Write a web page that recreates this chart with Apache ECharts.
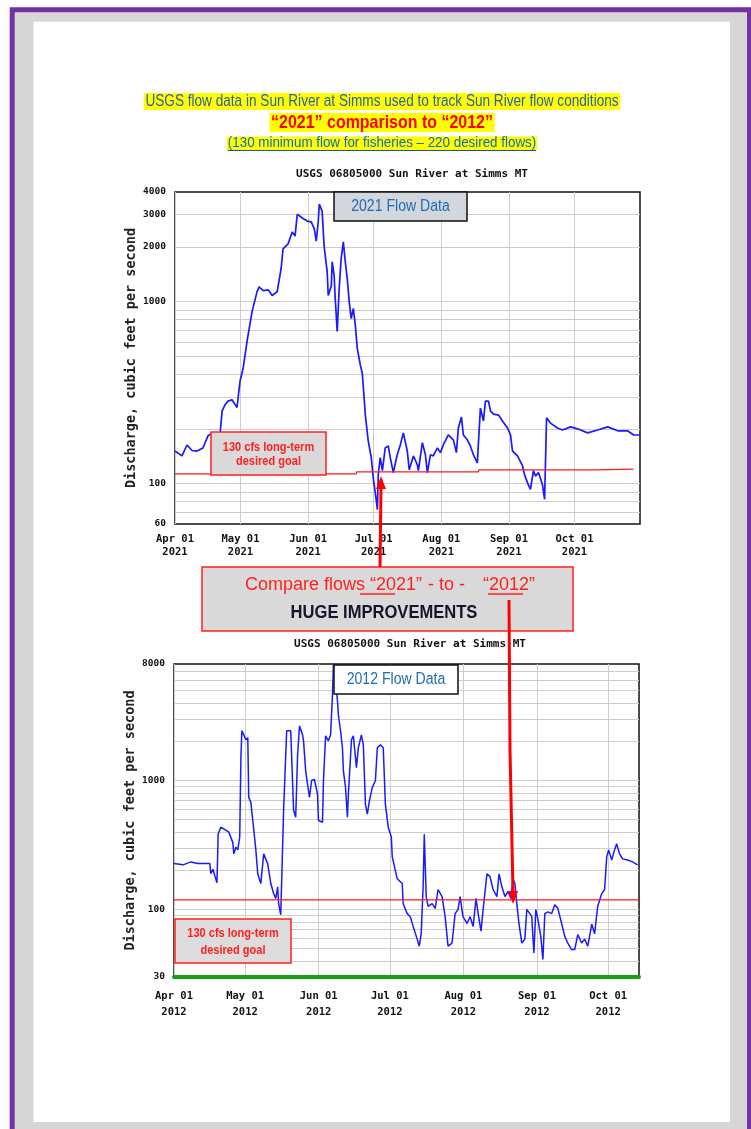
<!DOCTYPE html>
<html><head><meta charset="utf-8">
<script src="https://cdn.jsdelivr.net/npm/echarts@6/dist/echarts.min.js"></script>
<style>html,body{margin:0;padding:0;background:#fff}#c{width:751px;height:1129px}</style>
</head><body><div id="c"></div>
<script>
// ---------- DATA ----------
// day offsets from Apr 01 and discharge (cfs)
const days2021 = [0,3.2,5.5,7.8,10.1,12.8,15.1,17.4,20.6,21.6,22.9,24.3,26.1,28.4,29.8,31.2,33.0,35.3,37.6,38.5,40.4,42.7,44.5,46.8,47.2,48.6,49.5,51.8,53.7,55.0,56.0,58.3,60.6,62.4,63.8,64.7,65.6,66.1,67.0,67.4,68.3,69.7,70.2,71.6,72.0,72.9,73.4,74.3,75.2,76.1,77.1,78.0,78.9,79.8,80.7,81.7,82.6,83.5,84.9,85.8,87.2,88.5,89.9,90.8,92.2,92.7,93.1,94.0,95.0,96.3,97.7,98.6,100.0,101.8,103.2,104.6,106.4,107.3,109.2,111.0,111.5,113.3,114.7,115.6,117.0,118.3,120.2,121.6,122.9,125.2,127.5,128.9,129.8,131.2,132.1,133.9,135.3,136.7,138.5,139.0,139.9,141.3,142.2,143.6,144.5,145.9,148.2,150.0,152.3,153.7,154.6,156.9,159.2,160.1,161.5,162.8,164.2,165.1,166.5,168.3,169.3,170.2,172.0,175.2,177.5,181.2,184.4,189.0,193.6,198.2,202.8,207.3,210.1,213.3];
const flow2021 = [151,142,163,152,151,157,183,190,186,251,271,284,289,262,366,430,604,881,1134,1205,1148,1160,1080,1134,1120,1515,1950,2075,2410,2290,3020,2880,2770,2740,2510,2150,2740,3430,3510,3140,2020,1460,1080,1220,1655,1387,1038,686,1178,1718,2127,1655,1336,1000,807,916,740,553,447,404,238,172,139,108,81,72,112,139,118,157,161,139,115,144,163,190,151,119,142,127,118,168,144,115,144,142,157,148,163,185,174,148,202,232,185,174,161,144,130,168,260,221,284,284,251,241,238,221,202,185,151,142,125,112,101,93,118,110,115,99,82,230,215,202,197,205,200,190,197,205,195,195,185,185];

const days2012 = [0,3.8,7.1,10.1,15.1,15.5,16.4,18.1,18.5,18.6,19.7,21.8,23.1,24.8,25.2,26.1,26.9,27.7,28.2,28.6,29.4,30.3,31.1,31.5,32.4,33.2,33.6,34.5,35.3,36.6,37.8,39.5,40.8,42.0,42.9,43.7,44.1,45.0,45.8,46.2,47.5,49.2,50.4,51.3,52.1,52.9,54.2,54.6,55.5,56.3,57.1,58.0,59.2,60.5,60.9,62.6,63.0,63.9,65.1,66.0,66.8,67.2,68.1,68.9,69.3,70.2,71.0,71.4,72.3,73.1,73.5,74.8,75.6,76.9,77.7,79.0,79.8,80.7,81.5,82.4,83.6,84.9,85.7,87.0,88.2,89.1,90.3,91.6,92.0,94.1,96.2,96.6,98.3,99.6,100.8,102.5,103.4,104.2,105.0,105.5,106.3,107.1,108.8,110.1,111.3,113.0,114.3,115.5,117.2,118.5,119.7,120.6,121.8,123.5,124.8,126.1,127.3,128.2,129.4,130.3,131.9,133.2,134.5,136.1,137.0,138.2,139.5,140.8,142.0,142.9,143.7,144.5,145.4,146.6,147.9,148.7,150.0,150.8,151.7,152.5,153.4,154.6,155.5,156.3,157.6,159.2,160.5,161.8,163.4,164.7,166.0,167.6,168.9,170.2,171.8,173.1,174.4,176.1,177.3,178.6,180.3,181.5,182.4,183.2,184.5,185.7,186.6,187.8,189.1,191.2,193.3,195.4];
const flow2012 = [227,222,234,227,227,190,205,161,305,384,435,412,398,330,270,305,290,365,1500,2430,2260,2070,2150,740,677,490,420,290,189,159,270,226,159,133,122,150,111,91,93,588,2430,2430,588,519,1585,2650,2260,2030,1194,930,740,1000,1018,780,490,475,1000,2220,2030,2260,4600,8000,6200,4130,3220,2430,1795,1194,884,519,780,2070,2220,1260,1795,2260,1890,654,548,701,884,1000,1795,1890,1795,654,435,365,256,173,159,111,93,88,74,59,52,65,150,384,126,106,111,102,143,126,88,52,55,93,100,126,88,78,88,74,122,93,68,100,189,180,143,126,189,150,126,138,122,173,159,111,78,55,59,100,93,88,46,100,84,62,41,93,96,93,109,102,78,62,55,49,49,64,55,59,52,77,65,106,133,143,256,290,242,290,323,270,247,242,234,222];

// hand-drawn "long-term goal" red lines
const goal2021Days = [0,83,83.2,139,139.2,193,193.2,210];
const goal2021Flow = [113,113,116,116,119,119,120,120];
const goal2012Days = [0,196];
const goal2012Flow = [119,119];

// axis ticks
const monthTickDays = [0,30,61,91,122,153,183];
const monthNames = ['Apr 01','May 01','Jun 01','Jul 01','Aug 01','Sep 01','Oct 01'];
const yLabels2021 = [60,100,1000,2000,3000,4000];
const yGrid2021 = [70,80,90,100,200,300,400,500,600,700,800,900,1000,2000,3000];
const yLabels2012 = [30,100,1000,8000];
const yGrid2012 = [40,50,60,70,80,90,100,200,300,400,500,600,700,800,900,1000,2000,3000,4000,5000,6000,7000];

// ---------- CHART ----------
const MONO = "'DejaVu Sans Mono', monospace";
const SANS = "'Liberation Sans', Arial, sans-serif";
const chart = echarts.init(document.getElementById('c'), null, {renderer:'canvas'});

function xAxisCfg(gi, max, year, lh, margin){
  return {type:'value', gridIndex:gi, min:0, max:max,
    axisLine:{show:false}, axisTick:{show:false, customValues:monthTickDays},
    splitLine:{show:true, lineStyle:{color:'#cdcdcd', width:1}},
    axisLabel:{customValues:monthTickDays, margin:margin, lineHeight:lh,
      fontFamily:MONO, fontWeight:'bold', fontSize:10.5, color:'#111',
      formatter:v=>monthNames[monthTickDays.indexOf(v)]+'\n'+year}};
}
function yAxisCfg(gi, min, max, labels, grid){
  return {type:'log', logBase:10, gridIndex:gi, min:min, max:max,
    axisLine:{show:false}, axisTick:{show:false, customValues:grid},
    splitLine:{show:true, lineStyle:{color:'#cdcdcd', width:1}},
    axisLabel:{customValues:labels, margin:9, fontFamily:MONO, fontWeight:'bold', fontSize:9.5, color:'#111',
      formatter:v=>String(Math.round(v))},
    name:'Discharge, cubic feet per second', nameLocation:'middle', nameGap:37, nameMoveOverlap:false,
    nameTextStyle:{fontFamily:MONO, fontWeight:'bold', fontSize:13.5, color:'#222'}};
}
const zip=(a,b)=>a.map((d,i)=>[d,b[i]]);

const redBox = (x,y,w,h,fill)=>({type:'rect', z:5, shape:{x,y,width:w,height:h}, style:{fill:fill, stroke:'#ff1f1f', lineWidth:1.5}});
const txt = (x,y,t,o,sx)=>({type:'text', z:20, x:x, y:y, scaleX:sx||1,
  style:Object.assign({text:t, textAlign:'center', textVerticalAlign:'middle'}, o)});

const option = {
  animation:false,
  backgroundColor:'#ffffff',
  title:[
    {text:'USGS 06805000 Sun River at Simms MT', left:407, top:164, textAlign:'center',
      textStyle:{fontFamily:MONO, fontWeight:'bold', fontSize:11, color:'#111'}},
    {text:'USGS 06805000 Sun River at Simms MT', left:405, top:634, textAlign:'center',
      textStyle:{fontFamily:MONO, fontWeight:'bold', fontSize:11, color:'#111'}}
  ],
  grid:[
    {left:175, top:192, width:465, height:332, show:true, borderColor:'#111', borderWidth:1.5, outerBoundsMode:'none', containLabel:false},
    {left:174, top:664, width:465, height:313, show:true, borderColor:'#111', borderWidth:1.5, outerBoundsMode:'none', containLabel:false}
  ],
  xAxis:[ xAxisCfg(0, 213, '2021', 13, 9),
          Object.assign(xAxisCfg(1, 196, '2012', 16, 11), {axisLine:{show:true, onZero:false, lineStyle:{color:'#13a013', width:4}}}) ],
  yAxis:[ yAxisCfg(0, 60, 4000, yLabels2021, yGrid2021),
          yAxisCfg(1, 30, 8000, yLabels2012, yGrid2012) ],
  series:[
    {type:'line', name:'2021', xAxisIndex:0, yAxisIndex:0, data:zip(days2021, flow2021), showSymbol:false, symbol:'none', z:3,
      lineStyle:{color:'#1a1aff', width:1.7}},
    {type:'line', name:'goal2021', xAxisIndex:0, yAxisIndex:0, data:zip(goal2021Days, goal2021Flow), showSymbol:false, symbol:'none', z:4,
      lineStyle:{color:'#ff1a1a', width:1.3}},
    {type:'line', name:'2012', xAxisIndex:1, yAxisIndex:1, data:zip(days2012, flow2012), showSymbol:false, symbol:'none', z:3,
      lineStyle:{color:'#1a1aff', width:1.5}},
    {type:'line', name:'goal2012', xAxisIndex:1, yAxisIndex:1, data:zip(goal2012Days, goal2012Flow), showSymbol:false, symbol:'none', z:4,
      lineStyle:{color:'#ff1a1a', width:1.3}}
  ],
  graphic:{elements:[
    // page frame
    {type:'rect', z:-100, silent:true, shape:{x:12.2, y:9.7, width:737.3, height:1140}, style:{fill:'#d6d6d6', stroke:'#7232a3', lineWidth:5}},
    {type:'rect', z:-99, silent:true, shape:{x:33.5, y:21.7, width:696.5, height:1100.3}, style:{fill:'#ffffff'}},
    // headings
    txt(382, 101.5, 'USGS flow data in Sun River at Simms used to track Sun River flow conditions',
      {font:'16px '+SANS, fill:'#2b62a8', backgroundColor:'#ffff00', padding:[1,2,0,2]}, 0.85),
    txt(382, 122.5, '\u201C2021\u201D comparison to \u201C2012\u201D',
      {font:'bold 19px '+SANS, fill:'#ff0000', backgroundColor:'#ffff00', padding:[0,2,0,2]}, 0.84),
    txt(382, 143.5, '(130 minimum flow for fisheries \u2013 220 desired flows)',
      {font:'14px '+SANS, fill:'#0b6cc4', backgroundColor:'#ffff00', padding:[0,1,0,1]}, 0.955),
    {type:'line', z:21, shape:{x1:228, y1:150.5, x2:536, y2:150.5}, style:{stroke:'#1652a0', lineWidth:1.2}},
    // 2021 labels
    {type:'rect', z:10, shape:{x:334, y:192, width:133, height:29}, style:{fill:'#d3d6da', stroke:'#111', lineWidth:1.5}},
    txt(400.5, 207, '2021 Flow Data', {font:'16px '+SANS, fill:'#1f6cb5'}, 0.88),
    redBox(211, 432, 115, 43, '#d9d9d9'),
    txt(268.5, 448, '130 cfs long-term', {font:'bold 12px '+SANS, fill:'#ff1f1f'}, 0.92),
    txt(268.5, 461.5, 'desired goal', {font:'bold 12px '+SANS, fill:'#ff1f1f'}, 0.92),
    // middle comparison box
    redBox(202, 567, 371, 64, '#d9d9d9'),
    txt(245, 585, 'Compare flows \u201C2021\u201D', {font:'18px '+SANS, fill:'#ff1f1f', textAlign:'left'}),
    txt(428, 585, '- to -', {font:'18px '+SANS, fill:'#ff1f1f', textAlign:'left'}),
    txt(483, 585, '\u201C2012\u201D', {font:'18px '+SANS, fill:'#ff1f1f', textAlign:'left'}),
    {type:'line', z:21, shape:{x1:360, y1:594, x2:395, y2:594}, style:{stroke:'#ff1f1f', lineWidth:1.3}},
    {type:'line', z:21, shape:{x1:488, y1:594, x2:523, y2:594}, style:{stroke:'#ff1f1f', lineWidth:1.3}},
    txt(384, 613, 'HUGE IMPROVEMENTS', {font:'bold 18px '+SANS, fill:'#15152a'}, 0.92),
    // arrows
    {type:'polyline', z:30, shape:{points:[[380,567],[381,487]]}, style:{stroke:'#ff0000', lineWidth:3}},
    {type:'polygon', z:30, shape:{points:[[381,476],[376,489],[386,489]]}, style:{fill:'#ff0000'}},
    {type:'polyline', z:30, shape:{points:[[509,600],[510,750],[513,892]]}, style:{stroke:'#ff0000', lineWidth:3}},
    {type:'polygon', z:30, shape:{points:[[513,904],[508,891],[518,891]]}, style:{fill:'#ff0000'}},
    // 2012 labels
    {type:'rect', z:10, shape:{x:334, y:665, width:124, height:29}, style:{fill:'#ffffff', stroke:'#111', lineWidth:1.5}},
    txt(396, 680, '2012 Flow Data', {font:'16px '+SANS, fill:'#1f6cb5'}, 0.88),
    redBox(175, 919, 116, 44, '#dcdcdc'),
    txt(233, 934, '130 cfs long-term', {font:'bold 12px '+SANS, fill:'#ff1f1f'}, 0.92),
    txt(233, 950.5, 'desired goal', {font:'bold 12px '+SANS, fill:'#ff1f1f'}, 0.92)
  ]}
};
chart.setOption(option);
</script></body></html>
